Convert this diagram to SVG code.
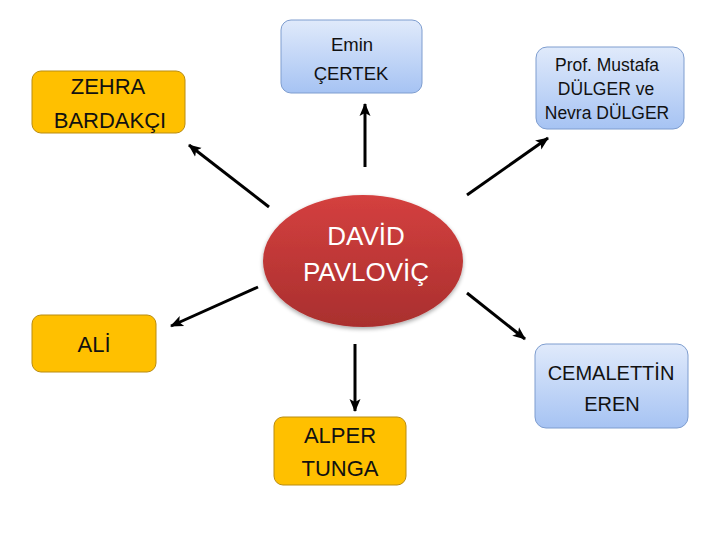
<svg xmlns="http://www.w3.org/2000/svg" width="720" height="540" viewBox="0 0 720 540">
<defs>
<linearGradient id="blue" x1="0" y1="0" x2="0" y2="1">
<stop offset="0" stop-color="#e0eafb"/>
<stop offset="1" stop-color="#a6c3f3"/>
</linearGradient>
<linearGradient id="red" x1="0" y1="0" x2="0" y2="1">
<stop offset="0" stop-color="#d4403f"/>
<stop offset="1" stop-color="#a92f2e"/>
</linearGradient>
<marker id="ah" markerUnits="userSpaceOnUse" markerWidth="14" markerHeight="14" refX="12" refY="7" orient="auto">
<path d="M0,1.5 L13,7 L0,12.5 L3,7 Z" fill="#000"/>
</marker>
<filter id="sh" x="-20%" y="-20%" width="140%" height="150%">
<feGaussianBlur in="SourceAlpha" stdDeviation="2"/>
<feOffset dx="0" dy="2" result="b"/>
<feComponentTransfer><feFuncA type="linear" slope="0.35"/></feComponentTransfer>
<feMerge><feMergeNode/><feMergeNode in="SourceGraphic"/></feMerge>
</filter>
</defs>
<style>
.orange{fill:#ffc000;stroke:#b98c10;stroke-width:1}
.blue{fill:url(#blue);stroke:#7e9dcf;stroke-width:1}
.t{font-family:"Liberation Sans",Arial,sans-serif;fill:#111;text-anchor:middle}
.w{font-family:"Liberation Sans",Arial,sans-serif;fill:#fff;text-anchor:middle;font-size:26px}
.c{stroke:#000;stroke-width:3;fill:none;marker-end:url(#ah)}
</style>
<g id="connectors">
<line class="c" x1="269" y1="207" x2="189" y2="145"/>
<line class="c" x1="365" y1="167" x2="365" y2="104"/>
<line class="c" x1="467" y1="195" x2="548" y2="138"/>
<line class="c" x1="258" y1="287" x2="171" y2="326"/>
<line class="c" x1="467" y1="293" x2="525" y2="339"/>
<line class="c" x1="355" y1="344" x2="355" y2="411"/>
</g>
<g id="zehra">
<rect class="orange" x="32" y="71" width="153" height="62" rx="9"/>
<text class="t" font-size="22" x="108" y="94">ZEHRA</text>
<text class="t" font-size="22" x="110" y="128">BARDAKÇI</text>
</g>
<g id="emin">
<rect class="blue" x="281" y="20" width="141" height="73" rx="10"/>
<text class="t" font-size="18.5" x="352" y="51">Emin</text>
<text class="t" font-size="18.5" x="351" y="80">ÇERTEK</text>
</g>
<g id="prof">
<rect class="blue" x="536" y="47" width="148" height="82" rx="11"/>
<text class="t" font-size="17.5" x="607" y="71">Prof. Mustafa</text>
<text class="t" font-size="17.5" x="606" y="95">DÜLGER ve</text>
<text class="t" font-size="17.5" x="607" y="119">Nevra DÜLGER</text>
</g>
<g id="david">
<ellipse cx="363" cy="261" rx="100" ry="66" fill="url(#red)" filter="url(#sh)"/>
<text class="w" x="366" y="245">DAVİD</text>
<text class="w" x="366" y="281">PAVLOVİÇ</text>
</g>
<g id="ali">
<rect class="orange" x="32" y="315" width="124" height="57" rx="9"/>
<text class="t" font-size="22" x="94" y="352">ALİ</text>
</g>
<g id="cemalettin">
<rect class="blue" x="535" y="344" width="153" height="84" rx="11"/>
<text class="t" font-size="20" x="611" y="380">CEMALETTİN</text>
<text class="t" font-size="20" x="612" y="411">EREN</text>
</g>
<g id="alper">
<rect class="orange" x="274" y="417" width="132" height="68" rx="9"/>
<text class="t" font-size="22" x="340" y="443">ALPER</text>
<text class="t" font-size="22" x="340" y="476">TUNGA</text>
</g>
</svg>
